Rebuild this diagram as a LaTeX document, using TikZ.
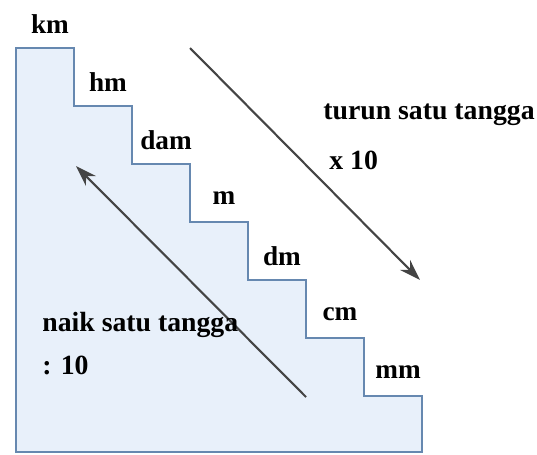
\documentclass[tikz,border=0pt]{standalone}
\usepackage{fontspec}
\setmainfont{Liberation Serif}
\usepackage{tikz}
\usetikzlibrary{arrows.meta}
\definecolor{tangga}{HTML}{E8F0FA}
\definecolor{garis}{HTML}{6688B0}
\definecolor{panah}{HTML}{444444}
\tikzset{
  satuan/.style={font=\fontsize{15.5}{17}\selectfont\bfseries, inner sep=0pt},
  teks/.style={font=\fontsize{15.8}{18}\selectfont\bfseries, inner sep=0pt, anchor=west},
  arah/.style={-{Stealth[length=12pt, width=8pt]}, line width=1.2pt, panah}
}
\begin{document}
\begin{tikzpicture}[x=0.02cm, y=-0.02cm]
    \useasboundingbox (0,0) rectangle (537,454);

    % Tangga
    \draw[fill=tangga, draw=garis, line width=1.1pt]
        (16,452) -- (16,48) -- (74,48) -- (74,106) -- (132,106) -- (132,164)
        -- (190,164) -- (190,222) -- (248,222) -- (248,280) -- (306,280)
        -- (306,338) -- (364,338) -- (364,396) -- (422,396) -- (422,452) -- cycle;

    % Satuan di tiap anak tangga
    \foreach \s [count=\i from 0] in {km,hm,dam,m,dm,cm,mm}
        \node[satuan] (\s) at (50+58*\i, 24+58*\i) {\s};

    % Panah turun
    \coordinate (T1) at (190,48);
    \coordinate (T2) at (420,280);
    \draw[arah] (T1) -- (T2);

    % Panah naik
    \coordinate (N1) at (306,397);
    \coordinate (N2) at (76,166);
    \draw[arah] (N1) -- (N2);

    % Keterangan
    \node[teks] (turun) at (323,115) {turun satu tangga};
    \node[teks] (kali) at (329,160) {x 10};
    \node[teks] (naik) at (42,325) {naik satu tangga};
    \node[teks] (bagi) at (42,365) {: 10};
\end{tikzpicture}
\end{document}
